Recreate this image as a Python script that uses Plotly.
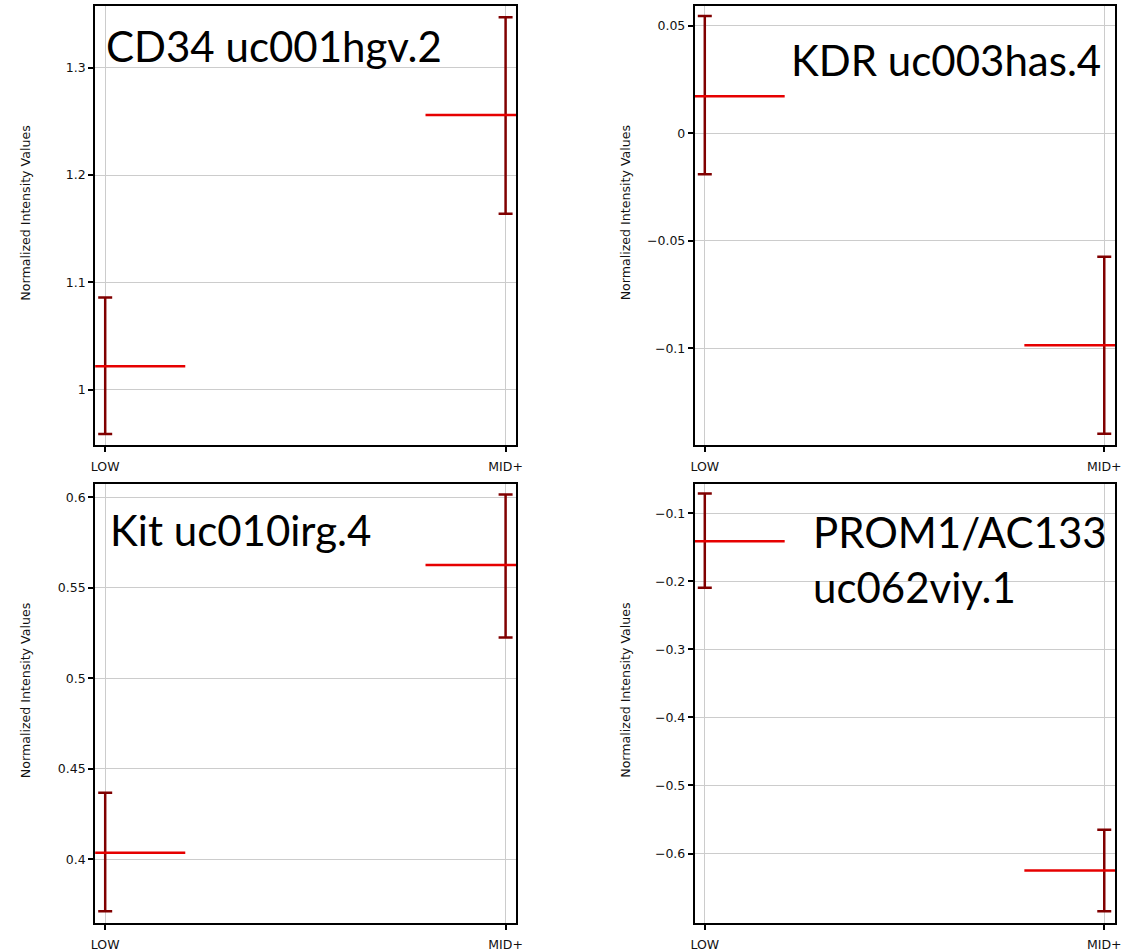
import plotly.graph_objects as go

W, H = 1125, 952

groups = ["LOW", "MID+"]
group_x = [0, 1]

titles = ["CD34 uc001hgv.2", "KDR uc003has.4", "Kit uc010irg.4", "PROM1/AC133<br>uc062viy.1"]

cd34_mean = [1.022, 1.256]
cd34_upper = [1.086, 1.347]
cd34_lower = [0.959, 1.164]

kdr_mean = [0.0173, -0.0986]
kdr_upper = [0.0546, -0.0574]
kdr_lower = [-0.0190, -0.1398]

kit_mean = [0.4037, 0.5626]
kit_upper = [0.4368, 0.6016]
kit_lower = [0.3714, 0.5225]

prom1_mean = [-0.141, -0.625]
prom1_upper = [-0.0708, -0.565]
prom1_lower = [-0.2096, -0.685]

cd34_ticks = [1.0, 1.1, 1.2, 1.3]
kdr_ticks = [-0.1, -0.05, 0.0, 0.05]
kit_ticks = [0.4, 0.45, 0.5, 0.55, 0.6]
prom1_ticks = [-0.6, -0.5, -0.4, -0.3, -0.2, -0.1]

yranges = [[0.949, 1.3574], [-0.1449, 0.0593], [0.3648, 0.6071], [-0.7023, -0.0576]]

panels = [
    (cd34_mean, cd34_upper, cd34_lower, cd34_ticks),
    (kdr_mean, kdr_upper, kdr_lower, kdr_ticks),
    (kit_mean, kit_upper, kit_lower, kit_ticks),
    (prom1_mean, prom1_upper, prom1_lower, prom1_ticks),
]

# pixel layout
xdoms = [(92, 517), (697, 1121)]
ydoms = [(6, 447), (487, 928)]

HALF = 0.2
ERR_COLOR = "#800000"
MEAN_COLOR = "#e60000"

fig = go.Figure()
annotations = []
for i, (m, up, lo, tv) in enumerate(panels):
    r, c = divmod(i, 2)
    ax = "" if i == 0 else str(i + 1)
    xa, ya = "x" + ax, "y" + ax
    fig.add_trace(go.Scatter(
        x=group_x, y=m, mode="markers", marker=dict(size=1, opacity=0),
        error_y=dict(type="data", symmetric=False,
                     array=[u - v for u, v in zip(up, m)],
                     arrayminus=[v - l for v, l in zip(m, lo)],
                     color=ERR_COLOR, thickness=2.5, width=7),
        xaxis=xa, yaxis=ya, showlegend=False, hoverinfo="skip"))
    lx, ly = [], []
    for gx, mv in zip(group_x, m):
        lx += [gx - HALF, gx + HALF, None]
        ly += [mv, mv, None]
    fig.add_trace(go.Scatter(x=lx, y=ly, mode="lines",
                             line=dict(color=MEAN_COLOR, width=2.5),
                             xaxis=xa, yaxis=ya, showlegend=False, hoverinfo="skip"))
    x0, x1 = xdoms[c]
    y0, y1 = ydoms[r]
    common = dict(showline=True, mirror=True, linecolor="black", linewidth=2,
                  showgrid=True, gridcolor="#cccccc", gridwidth=1,
                  ticks="outside", ticklen=5, tickwidth=2, tickcolor="black",
                  zeroline=False,
                  tickfont=dict(family="DejaVu Sans", size=12.5, color="#111"))
    fig.update_layout(**{
        ("xaxis" + ax): dict(domain=[x0 / W, x1 / W], range=[-0.025, 1.027],
                             tickvals=group_x, ticktext=groups, anchor=ya,
                             ticklabelstandoff=4, **common),
        ("yaxis" + ax): dict(domain=[1 - y1 / H, 1 - y0 / H], range=yranges[i],
                             tickmode="array", tickvals=tv, anchor=xa, **common),
    })
    # y axis title
    annotations.append(dict(
        text="Normalized Intensity Values", textangle=-90,
        x=(22 if c == 0 else 627) / W, y=1 - (214 if r == 0 else 694) / H,
        xref="paper", yref="paper", showarrow=False,
        font=dict(family="DejaVu Sans", size=12.6, color="#111"),
        xanchor="center", yanchor="middle"))

title_pos = [(101, 46), (792, 60), (105, 533), (814, 562)]
for i, t in enumerate(titles):
    px, py = title_pos[i]
    annotations.append(dict(
        text=t, x=px / W, y=1 - py / H, xref="paper", yref="paper",
        showarrow=False, xanchor="left", yanchor="middle", align="left",
        font=dict(family="Lato", size=42, color="black")))

fig.update_layout(width=W, height=H, margin=dict(l=0, r=0, t=0, b=0),
                  paper_bgcolor="white", plot_bgcolor="white",
                  annotations=annotations)

fig.write_html("out.html", config={"displayModeBar": False})

with open("out.html", "r", encoding="utf-8") as f:
    html = f.read()
html = html.replace("<head>", "<head><style>html,body{margin:0;padding:0;overflow:hidden;}</style>", 1)
with open("out.html", "w", encoding="utf-8") as f:
    f.write(html)
